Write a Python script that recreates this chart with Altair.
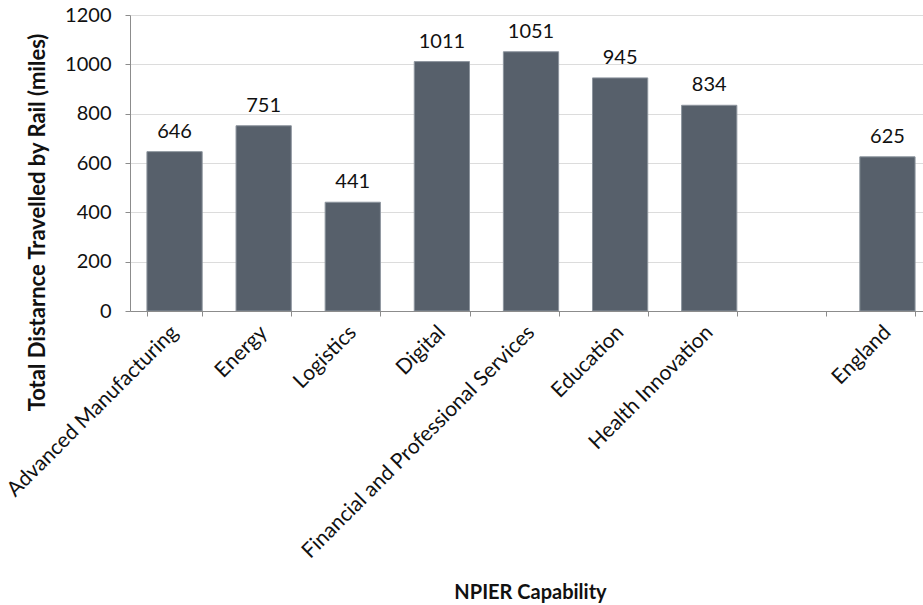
import altair as alt
import pandas as pd

categories = ["Advanced Manufacturing", "Energy", "Logistics", "Digital",
              "Financial and Professional Services", "Education",
              "Health Innovation", " ", "England"]
values = [646, 751, 441, 1011, 1051, 945, 834, None, 625]

df = pd.DataFrame({"cap": categories, "miles": values})
df_bars = df.dropna()

FONT = "Lato"

x_enc = alt.X("cap:N", sort=categories,
              scale=alt.Scale(domain=categories, range=[0, 802],
                              paddingInner=0.38, paddingOuter=0.19),
              axis=alt.Axis(title="NPIER Capability", labelAngle=315,
                            labelAlign="right", labelBaseline="middle",
                            labelPadding=13, labelFontSize=21, labelFont=FONT,
                            labelColor="#111111", labelLimit=0,
                            tickBand="extent", tickSize=5, tickColor="#8c8c8c",
                            domainColor="#8c8c8c", grid=False,
                            titleFont=FONT, titleFontSize=20, titleFontWeight="bold",
                            titleColor="#111111", titleX=400, titleY=287,
                            titleAlign="center", titleBaseline="alphabetic",
                            labelOverlap=False))

y_enc = alt.Y("miles:Q",
              scale=alt.Scale(domain=[0, 1200], nice=False),
              axis=alt.Axis(title="Total Distarnce Travelled by Rail (miles)",
                            values=[0, 200, 400, 600, 800, 1000, 1200], format="d",
                            labelFontSize=20, labelFont=FONT, labelColor="#111111",
                            labelPadding=14, tickSize=5, tickColor="#8c8c8c",
                            domainColor="#8c8c8c", grid=True, gridColor="#dcdcdc",
                            titleFont=FONT, titleFontSize=22, titleFontWeight="bold",
                            titleColor="#111111", titleX=-93, titleY=207,
                            titleAngle=270, titleAlign="center",
                            titleBaseline="middle"))

bars = alt.Chart(df_bars).mark_bar(color="#57606b", stroke="#8d959e",
                                   strokeWidth=1, clip=True).encode(x=x_enc, y=y_enc)

labels = alt.Chart(df_bars).mark_text(font=FONT, fontSize=20, color="#111111",
                                      baseline="alphabetic", dy=-14, clip=True).encode(
    x=alt.X("cap:N", sort=categories), y="miles:Q", text="miles:Q")

chart = (bars + labels).properties(
    width=793, height=296,
    autosize=alt.AutoSizeParams(type="none"),
    padding={"left": 130, "top": 15, "right": 0, "bottom": 294},
).configure_view(stroke=None)

chart.save("out.html", embed_options={"renderer": "svg", "actions": False})
